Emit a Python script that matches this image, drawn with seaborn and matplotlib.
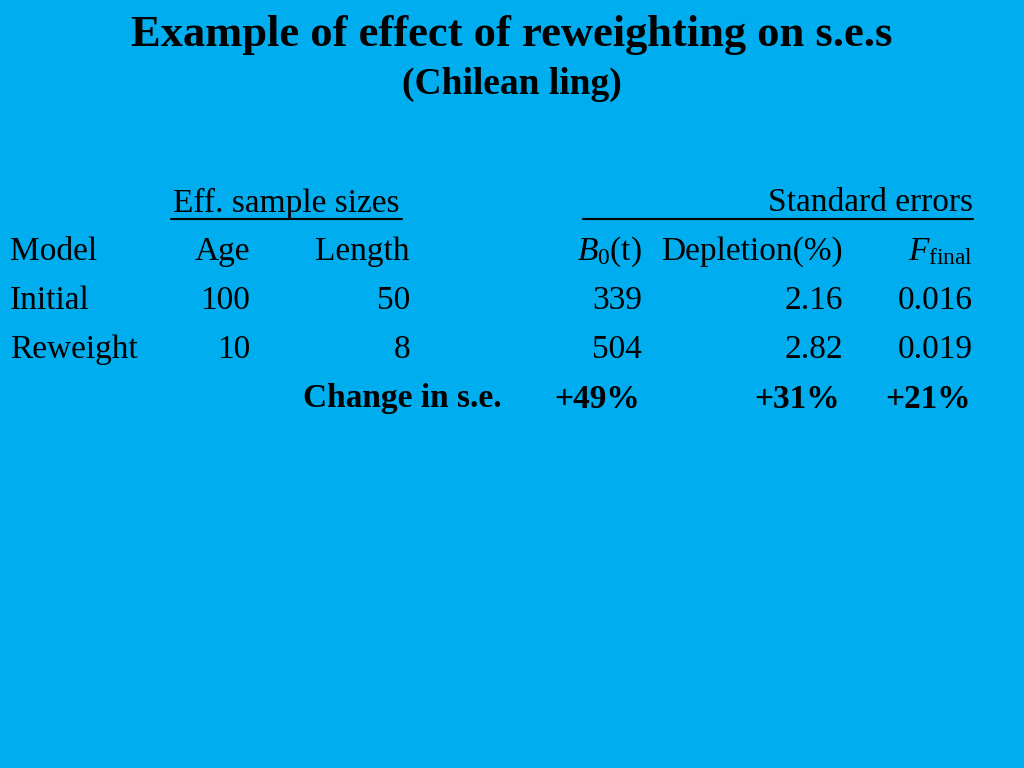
import matplotlib.pyplot as plt
import seaborn as sns

sns.set_theme(style="white", font="Liberation Serif")
plt.rcParams['mathtext.fontset'] = 'custom'
plt.rcParams['mathtext.it'] = 'Liberation Serif:italic'
plt.rcParams['mathtext.rm'] = 'Liberation Serif'

BG = '#00AEEF'
title = "Example of effect of reweighting on s.e.s"
subtitle = "(Chilean ling)"

models = ["Initial", "Reweight"]
ess_age = [100, 10]
ess_length = [50, 8]
se_b0 = ["339", "504"]
se_depletion = ["2.16", "2.82"]
se_ffinal = ["0.016", "0.019"]
change_label = "Change in s.e."
change_values = ["+49%", "+31%", "+21%"]

fig = plt.figure(figsize=(10.24, 7.68), dpi=100, facecolor=BG)
W, H = 1024, 768
fs = 24


def put(x, y, s, ha='right', **kw):
    fig.text(x / W, 1 - y / H, s, ha=ha, va='center', fontsize=kw.pop('size', fs),
             color='black', family='Liberation Serif', **kw)


def uline(x0, x1, y):
    fig.add_artist(plt.Line2D([x0 / W, x1 / W], [1 - y / H] * 2, color='black', lw=1.5))


put(512, 35, title, ha='center', size=32, weight='bold')
put(512, 84, subtitle, ha='center', size=27, weight='bold')

# group headers
put(286, 203, "Eff. sample sizes", ha='center')
uline(171, 402, 219)
put(973, 203, "Standard errors")
uline(583, 973, 219)

# column headers
put(10, 252, "Model", ha='left')
put(250, 252, "Age")
put(410, 252, "Length")
put(642, 252, r"$B_0$(t)")
put(843, 252, "Depletion(%)")
put(973, 252, r"$F_{\rm final}$")

rows_y = [301, 350]
for i, y in enumerate(rows_y):
    put(10, y, models[i], ha='left')
    put(250, y, str(ess_age[i]))
    put(410, y, str(ess_length[i]))
    put(642, y, se_b0[i])
    put(843, y, se_depletion[i])
    put(973, y, se_ffinal[i])

put(502, 399, change_label, weight='bold')
for x, v in zip([640, 840, 971], change_values):
    put(x, 399, v, weight='bold')

fig.savefig('out.png', dpi=100, facecolor=BG)
